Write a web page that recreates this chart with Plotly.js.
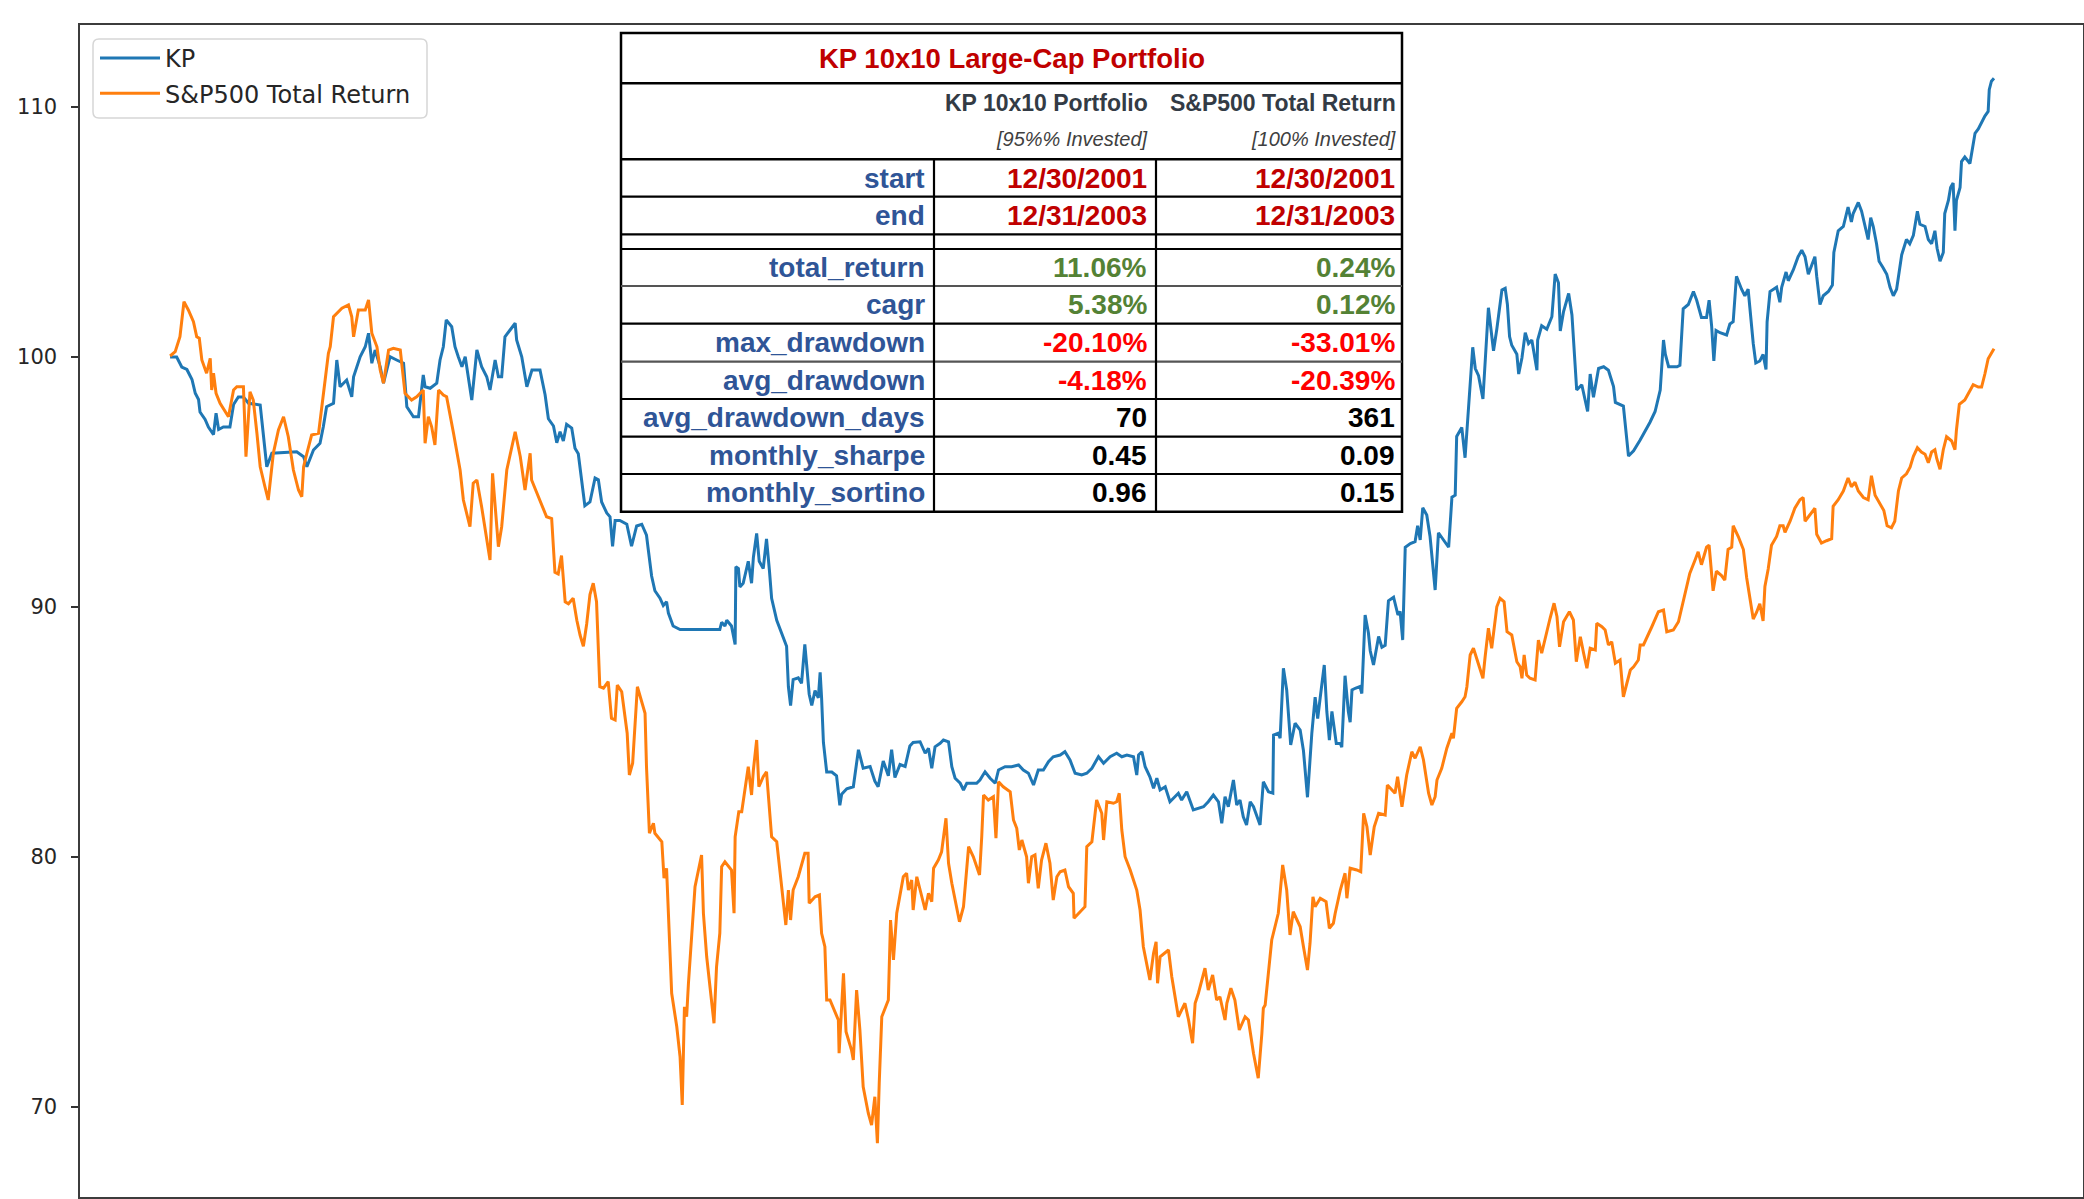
<!DOCTYPE html>
<html><head><meta charset="utf-8">
<script src="https://cdn.plot.ly/plotly-3.0.1.min.js"></script>
<style>html,body{margin:0;padding:0;background:#fff;overflow:hidden}#chart{width:2084px;height:1199px}</style>
</head><body><div id="chart"></div>
<script>
// ---- series (x = trading day index, y = growth of 100) ----
const kpDay = [0,1.8,3.2,4.6,6.0,6.9,7.8,8.2,9.6,10.5,11.4,11.9,12.6,13.3,14.6,16.4,17.4,18.7,20.1,21.5,24.7,26.0,26.5,27.9,34.7,36.6,37.5,39.3,41.1,42.0,42.9,44.8,45.7,46.6,48.4,49.8,50.3,52.1,53.5,54.4,55.3,56.2,57.6,58.5,60.3,62.1,64.0,64.9,66.7,68.1,69.4,69.9,71.3,73.1,74.0,74.9,75.7,77.2,78.1,79.0,80.0,80.9,81.8,82.7,84.1,85.4,86.8,87.7,89.1,90.0,90.9,91.8,93.2,94.6,95.0,96.4,97.8,99.2,101.4,
102.8,103.7,105.1,106.0,106.9,107.8,108.7,110.1,111.0,111.9,112.8,113.7,115.1,116.5,117.4,118.3,119.7,120.6,121.3,122.0,123.3,125.2,126.5,127.9,129.3,130.6,131.1,132.0,132.9,134.3,135.2,136.1,136.6,137.9,139.8,150.7,151.2,152.1,152.6,153.9,154.9,155.1,155.8,156.2,157.1,158.5,159.4,159.9,160.8,161.5,162.6,163.5,164.3,164.9,166.3,168.1,169.0,169.5,170.1,170.8,172.2,173.1,174.0,174.5,175.2,175.9,176.8,177.7,178.2,178.6,179.1,180.0,181.4,182.7,183.6,184.1,185.5,187.3,188.7,190.0,191.9,193.2,194.1,195.5,196.9,197.8,198.7,200.1,201.5,202.8,203.7,
205.6,207.0,207.9,208.8,209.7,211.1,212.0,213.4,214.3,215.2,216.6,217.5,218.4,219.8,221.1,222.0,223.4,224.8,226.2,227.1,228.9,230.7,232.6,233.9,235.3,236.7,238.0,239.4,240.8,242.1,244.0,245.3,246.7,248.1,249.9,251.3,252.7,254.5,255.9,257.7,259.5,260.9,262.3,264.1,265.0,265.5,266.4,267.3,268.6,269.6,270.5,271.4,272.8,274.1,275.5,276.4,277.3,278.7,280.5,281.9,283.3,284.6,286.0,287.4,288.3,289.2,290.1,291.5,292.4,293.3,294.2,295.1,296.1,297.0,297.9,298.8,299.7,301.1,302.3,302.5,303.8,304.3,305.2,306.1,307.2,308.4,309.8,
310.7,311.8,313.0,313.9,314.6,315.3,316.4,317.1,317.8,318.5,319.7,320.8,321.2,322.1,323.0,323.5,324.0,324.9,326.2,326.7,327.6,328.5,329.0,329.9,331.3,332.2,333.1,334.0,335.4,336.6,337.2,337.9,338.6,340.0,341.3,342.0,342.7,343.4,344.5,345.4,346.2,346.8,347.7,349.1,350.5,351.4,352.3,352.7,354.1,355.0,355.5,356.4,357.1,357.8,358.7,359.9,360.5,361.4,362.1,362.8,363.7,365.1,366.0,366.6,367.2,367.8,369.2,369.7,370.6,371.5,372.4,373.3,374.7,374.9,376.0,377.4,378.8,379.7,380.6,381.1,382.0,383.4,384.3,384.9,385.6,387.0,388.6,389.3,390.2,391.6,393.0,394.3,395.7,396.2,397.1,398.4,399.8,401.2,403.0,404.4,405.7,407.1,408.5,409.4,409.9,410.8,412.1,413.1,
413.9,414.8,416.2,417.6,418.5,419.8,421.2,421.9,422.6,423.2,423.8,424.9,426.7,427.6,428.5,429.4,430.8,431.7,432.6,433.3,434.0,434.7,435.8,436.7,437.5,437.8,438.6,440.4,441.3,441.8,443.0,443.6,445.0,446.3,447.3,448.2,449.1,450.0,450.9,451.4,452.3,453.2,454.6,455.7,456.1,457.3,458.7,460.0,460.9,461.4,462.8,463.7,464.6,465.5,466.2,466.9,467.8,468.5,469.6,470.6,471.5,472.4,473.3,474.7,476.0,476.9,477.9,479.0,479.7,481.1,482.0,482.9,483.8,484.4,485.2,486.1,486.5,487.5,488.1,488.8,489.3,489.7,490.7,491.1,492.0,493.4,494.1,494.8,495.7,496.6,497.5,498.4,498.7,499.3,500.0];
const kpVal = [100.0,100.0,99.6,99.5,99.1,98.55,98.3,97.8,97.5,97.2,97.0,96.9,97.75,97.1,97.2,97.2,98.1,98.4,98.4,98.15,98.08,96.41,95.61,96.15,96.21,96.01,95.61,96.28,96.55,97.21,98.01,98.15,99.88,98.81,99.08,98.41,99.21,100.01,100.41,100.95,99.75,100.28,99.61,98.95,100.01,99.88,99.75,98.01,97.61,97.61,99.28,98.81,98.75,98.95,99.88,100.41,101.48,101.21,100.41,100.01,99.61,100.01,99.21,98.28,100.28,99.61,99.21,98.68,99.88,99.21,99.21,100.81,101.08,101.35,100.68,100.01,98.81,99.48,99.48,
98.49,97.53,97.24,96.57,97.01,96.64,97.31,97.16,96.35,96.13,95.09,94.05,94.2,95.16,95.09,94.2,93.76,93.61,92.43,93.46,93.46,93.31,92.43,93.24,93.31,92.87,92.28,91.24,90.65,90.35,90.06,90.21,89.76,89.24,89.1,89.1,89.39,89.24,89.47,89.24,88.5,91.61,91.54,90.8,90.95,91.83,90.95,91.98,92.94,91.83,91.54,92.72,91.46,90.35,89.47,88.73,88.43,86.8,86.06,87.1,87.17,86.95,88.5,87.69,86.51,86.06,86.66,86.36,87.39,86.36,84.58,83.4,83.4,83.25,82.07,82.51,82.73,82.81,84.29,83.55,83.62,83.03,82.81,83.84,83.25,84.29,83.18,83.7,83.62,84.44,84.58,
84.61,84.15,84.35,83.55,84.41,84.55,84.68,84.61,83.61,83.15,82.95,82.68,82.95,82.95,82.95,83.08,83.41,83.15,82.95,83.48,83.61,83.61,83.68,83.48,83.35,82.88,83.48,83.48,83.81,84.01,84.08,84.21,83.88,83.35,83.28,83.35,83.55,84.01,83.75,84.01,84.15,84.01,84.08,84.01,83.28,84.08,84.21,83.61,83.21,82.75,83.15,82.68,82.81,82.21,82.41,82.55,82.28,82.61,81.88,81.95,82.01,82.21,82.48,82.21,81.35,82.41,82.01,83.08,82.08,82.28,81.61,81.28,82.21,82.01,81.61,81.28,83.01,82.61,82.55,84.88,84.95,84.75,87.55,86.68,84.48,85.35,85.08,
84.25,82.39,84.97,86.39,85.54,86.39,87.68,85.82,84.68,85.82,84.54,84.54,84.39,87.25,85.82,85.39,86.68,86.75,86.82,86.54,89.68,88.97,88.25,87.68,88.82,88.39,88.47,90.25,90.39,89.68,89.82,88.68,92.39,92.54,92.61,93.25,92.68,93.97,93.68,92.82,91.39,90.68,92.97,92.68,92.39,94.39,94.47,96.82,97.18,95.97,96.97,98.75,100.39,99.54,99.25,98.32,99.97,101.97,101.11,100.25,101.11,102.68,102.75,102.11,100.82,100.47,100.11,99.32,99.97,100.97,100.54,100.68,99.47,100.68,101.25,101.11,101.61,103.32,102.97,101.04,101.82,102.54,101.68,100.39,98.68,98.89,97.82,99.32,98.39,99.54,99.61,99.47,98.82,98.18,98.11,98.04,96.04,96.25,96.68,97.04,97.39,97.82,98.68,100.68,100.11,99.61,99.61,99.61,
99.67,101.93,102.1,102.62,102.27,101.58,101.58,102.27,101.23,99.84,101.06,100.97,100.88,101.32,101.41,103.23,102.71,102.45,102.71,101.58,100.54,99.76,99.84,100.1,99.5,101.41,102.62,102.79,102.19,102.79,103.4,103.05,103.49,104.01,104.27,104.01,103.31,103.66,104.01,103.23,102.1,102.45,102.62,102.88,104.18,105.05,105.22,106.0,105.4,105.74,106.18,105.83,105.22,104.7,105.57,105.22,104.53,103.83,103.57,103.31,102.79,102.45,102.71,104.09,104.7,104.53,104.87,105.83,105.31,105.22,104.7,104.53,105.05,104.35,103.83,104.18,105.74,106.26,106.78,106.96,105.05,106.26,106.78,107.82,108.0,107.74,108.34,108.95,109.12,109.38,109.64,109.82,110.69,111.03,111.15];

const spDay = [0,1.4,2.7,3.8,5.0,6.4,7.3,8.0,8.7,10.0,11.0,11.4,11.9,12.6,13.7,16.0,17.4,18.3,20.1,20.8,21.9,22.8,23.8,24.7,26.0,26.9,28.3,29.7,31.1,32.4,33.8,35.2,36.1,36.6,37.5,38.8,40.7,41.6,42.5,43.4,43.9,44.8,45.7,47.1,48.9,49.8,50.3,51.6,53.5,54.4,55.3,56.7,57.6,58.5,59.9,61.2,63.1,64.4,66.2,67.6,69.4,69.9,70.8,71.7,72.6,73.6,74.9,75.8,77.7,79.5,80.4,82.2,83.1,84.1,85.4,87.7,88.4,89.1,90.0,90.9,92.3,93.2,94.6,96.0,97.3,97.8,98.7,99.1,101.0,
103.2,104.6,105.5,106.4,107.3,108.3,109.2,110.5,111.5,112.4,113.3,114.2,115.1,116.0,116.9,
117.8,118.8,120.1,121.0,122.0,122.6,123.8,125.3,125.9,126.8,128.1,130.2,130.6,131.4,132.5,132.9,134.8,135.4,136.1,136.6,137.5,138.9,139.8,140.4,141.0,141.6,142.1,143.9,145.7,146.2,147.1,149.1,149.8,150.7,151.2,152.1,153.9,154.6,154.9,155.9,156.7,158.5,159.4,159.9,160.8,161.4,162.6,163.5,164.9,166.3,167.6,168.8,169.5,170.1,170.8,172.2,174.0,174.9,175.2,176.8,178.0,178.6,179.5,180.0,180.9,183.2,183.4,184.1,184.6,185.3,186.8,187.3,188.2,189.1,190.0,191.4,192.3,193.2,193.9,194.4,195.1,196.9,197.5,198.3,199.2,201.0,201.9,202.4,203.3,203.7,204.7,
207.0,207.9,208.8,209.3,210.6,211.5,212.7,213.4,214.3,215.7,216.4,217.5,218.9,220.2,221.9,222.5,223.0,224.3,225.7,226.4,227.1,228.4,230.3,231.2,232.1,232.8,233.5,234.8,235.3,236.2,237.1,238.0,238.9,240.1,241.2,242.1,243.1,244.0,245.3,246.3,247.6,247.8,249.5,250.8,251.3,252.7,254.0,255.4,255.9,256.8,258.6,259.5,260.2,260.9,261.8,263.2,265.0,265.9,266.8,268.6,269.6,270.3,270.7,271.4,273.7,274.6,276.4,278.2,279.2,280.3,281.0,281.9,283.7,284.6,285.8,286.9,287.8,289.2,289.7,290.8,291.9,293.1,294.7,295.6,297.0,298.3,299.3,299.7,300.2,302.0,303.8,305.0,306.1,307.0,307.9,309.8,
310.7,311.8,312.5,313.3,313.9,315.3,316.9,317.8,318.9,319.4,320.8,322.1,322.6,323.5,325.3,326.4,327.2,328.1,329.0,330.1,331.3,333.1,333.7,334.9,335.8,336.5,337.2,337.7,339.0,340.4,341.3,342.7,343.6,345.0,345.9,346.8,347.3,348.6,350.0,351.4,351.8,352.7,354.1,355.0,355.5,356.4,357.3,358.7,359.9,360.5,361.4,362.3,363.0,363.7,364.6,365.7,366.5,367.8,369.2,370.1,370.6,371.2,371.9,372.8,374.2,375.1,376.0,376.9,378.3,379.4,380.2,380.9,382.0,383.6,384.7,385.5,386.6,387.5,388.4,389.3,390.7,391.1,392.5,393.4,394.3,395.2,396.2,397.5,398.4,400.3,401.2,402.5,403.0,403.9,404.8,406.2,408.0,409.4,410.3,412.1,413.5,
415.3,416.6,418.0,418.9,419.8,421.2,421.9,423.0,423.9,425.3,426.2,427.1,428.1,428.5,429.9,431.3,432.2,433.1,434.0,434.9,435.8,436.7,437.2,438.1,439.0,440.4,441.3,442.2,442.7,444.1,445.4,446.8,447.7,448.2,449.1,450.0,450.9,451.4,452.7,454.1,455.5,455.9,457.3,458.7,460.0,460.9,461.9,462.8,464.2,465.5,466.4,467.4,468.7,469.8,470.7,471.9,472.8,473.8,474.7,476.0,477.0,477.9,479.0,480.1,481.1,482.0,482.9,483.8,484.3,485.2,486.1,487.0,488.4,489.3,489.7,490.5,492.0,493.4,494.3,495.7,496.6,497.5,498.4,500.0];
const spVal = [100.04,100.21,100.81,102.21,101.88,101.41,100.81,100.75,99.88,99.35,99.95,98.68,99.35,98.55,98.15,97.61,98.68,98.81,98.81,96.01,98.61,98.28,96.95,95.61,94.81,94.28,96.15,97.08,97.61,96.81,95.48,94.68,94.41,95.61,96.15,96.88,96.95,98.15,99.08,100.15,100.41,101.61,101.75,101.95,102.08,101.61,100.81,101.88,101.88,102.28,100.95,100.41,99.48,98.95,100.28,100.35,100.28,98.55,98.28,98.41,98.68,96.55,97.61,97.21,96.48,98.68,98.48,98.41,96.95,95.48,94.28,93.21,94.95,95.08,94.01,91.88,95.35,93.88,92.41,93.21,95.48,96.08,97.01,96.01,94.68,95.21,96.15,95.08,94.41,
93.61,93.54,91.39,91.32,92.06,90.21,90.13,90.35,89.47,88.87,88.43,89.32,90.5,90.95,90.21,
86.81,86.75,87.01,85.55,85.48,86.88,86.61,84.95,83.28,83.75,86.81,85.75,83.61,80.95,81.35,80.95,80.61,79.15,79.55,77.61,74.55,73.21,72.01,70.08,74.01,73.61,74.95,78.81,80.08,77.75,76.01,73.35,75.61,76.95,79.61,79.81,79.48,77.75,80.81,81.81,81.81,83.61,82.48,83.48,84.68,82.81,83.21,83.41,80.81,80.61,78.81,77.28,78.68,77.48,78.68,79.21,80.15,80.15,78.15,78.41,78.48,76.95,76.41,74.28,74.28,73.48,72.15,73.88,75.35,73.01,72.28,71.88,74.68,73.08,70.81,69.75,69.28,70.41,68.55,70.95,73.61,74.28,77.48,75.88,77.75,79.21,79.35,78.68,79.08,77.88,79.21,
77.88,78.55,78.21,79.55,79.88,80.21,81.55,79.75,78.95,77.88,77.41,78.01,80.41,80.01,79.28,80.81,82.48,82.28,82.41,80.75,83.01,82.81,82.61,81.48,81.15,80.28,80.68,80.01,78.95,80.01,80.08,78.75,79.88,80.55,79.75,78.28,79.21,79.41,79.48,78.81,78.55,77.55,77.81,78.01,80.41,80.61,82.28,81.75,80.68,82.21,82.15,82.21,82.55,81.08,80.01,79.48,78.68,77.88,76.41,75.08,76.15,76.61,74.95,76.01,76.28,75.21,73.61,74.15,73.48,72.55,74.15,74.55,75.55,74.68,75.28,74.28,74.41,73.48,74.15,74.75,74.28,73.08,73.61,73.48,72.15,71.15,72.95,73.95,74.08,76.68,77.75,79.68,78.68,76.88,77.81,77.21,
76.41,75.48,76.55,78.41,78.01,78.35,78.21,77.15,77.35,77.75,78.68,79.35,78.35,79.55,79.48,79.41,81.75,81.21,80.08,81.21,81.75,81.68,82.88,82.68,82.55,83.21,82.55,82.01,83.28,84.21,83.95,84.41,83.88,82.55,82.08,82.41,83.08,83.55,84.35,84.95,84.75,85.95,86.21,86.41,86.81,88.08,88.35,87.75,87.15,88.01,89.15,88.35,89.08,90.01,90.35,90.21,89.01,88.88,87.81,87.61,87.15,88.08,87.28,87.15,87.08,88.68,88.15,88.75,89.55,90.15,89.61,88.41,89.41,89.81,89.48,87.81,88.81,88.15,87.55,88.35,88.28,89.35,89.21,89.08,88.48,88.61,87.75,87.88,86.41,87.48,87.61,87.88,88.48,88.48,88.75,89.21,89.81,89.88,89.01,89.08,89.41,
90.48,91.34,91.86,92.21,91.69,92.39,92.47,90.65,91.43,91.26,91.08,92.3,92.39,93.25,92.82,92.3,91.17,90.3,89.52,89.78,90.13,89.44,90.82,91.52,92.47,92.82,93.25,93.25,92.99,93.43,93.95,94.29,94.38,93.43,93.6,93.77,93.95,92.91,92.56,92.65,92.73,94.03,94.29,94.64,95.16,94.81,94.99,94.64,94.38,94.29,95.25,94.47,94.12,93.86,93.25,93.17,93.43,94.64,95.16,95.33,95.59,96.03,96.37,96.2,96.11,95.77,96.2,96.29,95.94,95.51,96.29,96.81,96.64,96.29,97.07,98.11,98.28,98.63,98.89,98.8,98.8,99.32,99.93,100.33];

const seriesNames = ['KP', 'S&P500 Total Return'];
const seriesColors = ['#1f77b4', '#ff7f0e'];
const yTickVals = [70, 80, 90, 100, 110];

// ---- stats table ----
const tableTitle = 'KP 10x10 Large-Cap Portfolio';
const colHeaders = ['KP 10x10 Portfolio', 'S&P500 Total Return'];
const colSubHeaders = ['[95%% Invested]', '[100% Invested]'];
const rowLabels = ['start', 'end', '', 'total_return', 'cagr', 'max_drawdown', 'avg_drawdown', 'avg_drawdown_days', 'monthly_sharpe', 'monthly_sortino'];
const kpStats = ['12/30/2001', '12/31/2003', '', '11.06%', '5.38%', '-20.10%', '-4.18%', '70', '0.45', '0.96'];
const spStats = ['12/30/2001', '12/31/2003', '', '0.24%', '0.12%', '-33.01%', '-20.39%', '361', '0.09', '0.15'];
const rowValueColors = ['#c00000', '#c00000', '#000', '#548235', '#548235', '#ff0000', '#ff0000', '#000', '#000', '#000'];

// ---- geometry helpers (pixel -> paper) ----
const W = 2084, H = 1199;
const M = {l: 80, r: 1, t: 25, b: 2};
const PW = W - M.l - M.r, PH = H - M.t - M.b;
const px = X => (X - M.l) / PW;
const py = Y => 1 - (Y - M.t) / PH;

const FONT_T = 'Liberation Sans, Arial, sans-serif';
const shapes = [];
const annotations = [];

// legend box (rounded)
(function () {
  const x0 = 93, x1 = 427, y0 = 39, y1 = 118, r = 6;
  const p = `M ${px(x0 + r)} ${py(y0)} L ${px(x1 - r)} ${py(y0)} Q ${px(x1)} ${py(y0)} ${px(x1)} ${py(y0 + r)} L ${px(x1)} ${py(y1 - r)} Q ${px(x1)} ${py(y1)} ${px(x1 - r)} ${py(y1)} L ${px(x0 + r)} ${py(y1)} Q ${px(x0)} ${py(y1)} ${px(x0)} ${py(y1 - r)} L ${px(x0)} ${py(y0 + r)} Q ${px(x0)} ${py(y0)} ${px(x0 + r)} ${py(y0)} Z`;
  shapes.push({type: 'path', xref: 'paper', yref: 'paper', path: p, fillcolor: 'rgba(255,255,255,0.8)', line: {color: '#d6d6d6', width: 1.5}, layer: 'above'});
})();

// table frame
const TX0 = 621, TX1 = 1402, TC1 = 934, TC2 = 1156;
const TY0 = 33, TTitle = 83.3, THead = 159.3;
const rowEdges = [159.3, 196.7, 234.3, 249, 286, 323.7, 361.7, 399, 436.7, 474, 511.7];
const lineGray = [false, false, false, false, true, false, true, false, false, false];
shapes.push({type: 'rect', xref: 'paper', yref: 'paper', x0: px(TX0), x1: px(TX1), y0: py(TY0), y1: py(rowEdges[rowEdges.length - 1]), fillcolor: '#fff', line: {color: '#000', width: 2.5}, layer: 'above'});
function hline(y, color, w) {
  shapes.push({type: 'line', xref: 'paper', yref: 'paper', x0: px(TX0), x1: px(TX1), y0: py(y), y1: py(y), line: {color: color, width: w}, layer: 'above'});
}
hline(TTitle, '#000', 2.5);
hline(THead, '#000', 2.5);
for (let i = 1; i < rowEdges.length - 1; i++) hline(rowEdges[i], lineGray[i] ? '#555' : '#000', 2.2);
[TC1, TC2].forEach(X => shapes.push({type: 'line', xref: 'paper', yref: 'paper', x0: px(X), x1: px(X), y0: py(THead), y1: py(rowEdges[rowEdges.length - 1]), line: {color: '#000', width: 2.2}, layer: 'above'}));

function txt(text, X, Y, anchor, font) {
  annotations.push({text: text, xref: 'paper', yref: 'paper', x: px(X), y: py(Y), xanchor: anchor, yanchor: 'middle', showarrow: false, font: font});
}
txt(tableTitle, (TX0 + TX1) / 2, 58.5, 'center', {family: FONT_T, size: 27.5, color: '#c00000', weight: 'bold'});
txt(colHeaders[0], 1150, 103, 'right', {family: FONT_T, size: 23, color: '#333b45', weight: 'bold'});
txt(colHeaders[1], 1398, 103, 'right', {family: FONT_T, size: 23, color: '#333b45', weight: 'bold'});
txt(colSubHeaders[0], 1150, 139, 'right', {family: FONT_T, size: 20, color: '#404040', style: 'italic'});
txt(colSubHeaders[1], 1398, 139, 'right', {family: FONT_T, size: 20, color: '#404040', style: 'italic'});
for (let i = 0; i < rowLabels.length; i++) {
  if (!rowLabels[i]) continue;
  const yc = (rowEdges[i] + rowEdges[i + 1]) / 2;
  txt(rowLabels[i], 927, yc, 'right', {family: FONT_T, size: 28, color: '#2f5597', weight: 'bold'});
  txt(kpStats[i], 1149, yc, 'right', {family: FONT_T, size: 28, color: rowValueColors[i], weight: 'bold'});
  txt(spStats[i], 1397, yc, 'right', {family: FONT_T, size: 28, color: rowValueColors[i], weight: 'bold'});
}

const traces = [
  {x: kpDay, y: kpVal, name: seriesNames[0], type: 'scatter', mode: 'lines', line: {color: seriesColors[0], width: 3}, legendgroup: 'a'},
  {x: spDay, y: spVal, name: seriesNames[1], type: 'scatter', mode: 'lines', line: {color: seriesColors[1], width: 3}, legendgroup: 'b'}
];

const layout = {
  width: W, height: H,
  margin: M,
  paper_bgcolor: '#fff', plot_bgcolor: '#fff',
  showlegend: true,
  legend: {x: px(95), y: py(36), xanchor: 'left', yanchor: 'top', bgcolor: 'rgba(0,0,0,0)', borderwidth: 0,
           font: {family: 'DejaVu Sans', size: 24, color: '#262626'}, tracegroupgap: 1, traceorder: 'grouped', itemwidth: 60},
  xaxis: {range: [-24.7, 524.4], showticklabels: false, ticks: '', showgrid: false, zeroline: false,
          showline: true, mirror: true, linecolor: '#3c3c3c', linewidth: 1.6},
  yaxis: {range: [66.4, 113.28], tickmode: 'array', tickvals: yTickVals, ticks: 'outside', ticklen: 7, tickwidth: 1.5,
          tickcolor: '#333', showgrid: false, zeroline: false, showline: true, mirror: true, linecolor: '#3c3c3c', linewidth: 1.6,
          tickfont: {family: 'DejaVu Sans', size: 21, color: '#262626'}, ticklabelstandoff: 10},
  shapes: shapes,
  annotations: annotations
};

Plotly.newPlot('chart', traces, layout, {displayModeBar: false, staticPlot: true});
</script>
</body></html>
